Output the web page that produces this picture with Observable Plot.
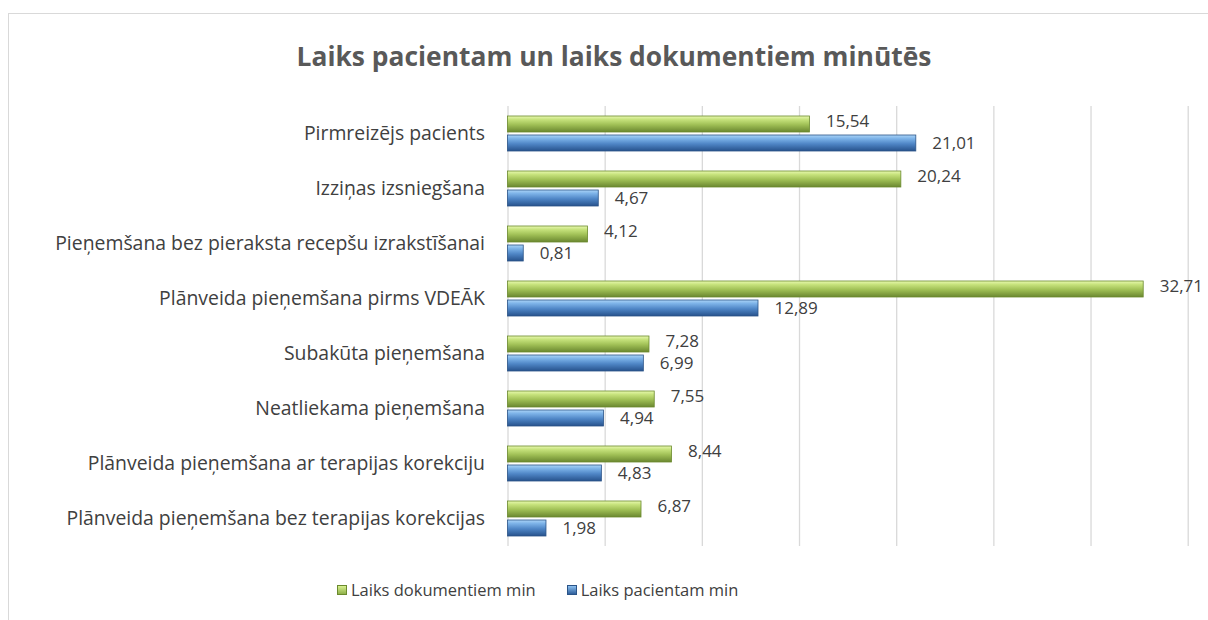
<!DOCTYPE html>
<html>
<head>
<meta charset="utf-8">
<script src="https://cdn.jsdelivr.net/npm/d3@7"></script>
<script src="https://cdn.jsdelivr.net/npm/@observablehq/plot@0.6"></script>
<style>
  html, body { margin: 0; padding: 0; background: #fff; }
  body { width: 1208px; height: 620px; overflow: hidden; position: relative; font-family: "Open Sans", sans-serif; }
  #frame { position: absolute; left: 8px; top: 13px; width: 1210px; height: 620px; border-left: 1.5px solid #d9d9d9; border-top: 1.5px solid #d9d9d9; box-sizing: border-box; }
  #title { position: absolute; left: 0; top: 38px; width: 1228px; text-align: center; font-weight: bold; font-size: 26.4px; line-height: 36px; color: #595959; }
  #chart { position: absolute; left: 0; top: 90px; }
  #legend { position: absolute; left: 337px; top: 578px; display: flex; font-size: 16.5px; line-height: 24px; color: #404040; }
  .item { display: flex; align-items: center; margin-right: 31px; }
  .sw { width: 10px; height: 10px; margin-right: 4px; box-sizing: border-box; }
</style>
</head>
<body>
<div id="frame"></div>
<div id="title">Laiks pacientam un laiks dokumentiem minūtēs</div>
<div id="chart"></div>
<div id="legend"></div>
<script>
const categories = [
  "Pirmreizējs pacients",
  "Izziņas izsniegšana",
  "Pieņemšana bez pieraksta recepšu izrakstīšanai",
  "Plānveida pieņemšana pirms VDEĀK",
  "Subakūta pieņemšana",
  "Neatliekama pieņemšana",
  "Plānveida pieņemšana ar terapijas korekciju",
  "Plānveida pieņemšana bez terapijas korekcijas"
];
const seriesNames = ["Laiks dokumentiem min", "Laiks pacientam min"];
const dokumentiem = [15.54, 20.24, 4.12, 32.71, 7.28, 7.55, 8.44, 6.87];
const pacientam = [21.01, 4.67, 0.81, 12.89, 6.99, 4.94, 4.83, 1.98];
const xTicks = [0, 5, 10, 15, 20, 25, 30, 35];
const seriesFill = { "Laiks dokumentiem min": "url(#gGreen)", "Laiks pacientam min": "url(#gBlue)" };
const seriesStroke = { "Laiks dokumentiem min": "#6b8a2e", "Laiks pacientam min": "#2b5488" };

const rows = [];
categories.forEach((c, i) => {
  rows.push({ cat: c, series: seriesNames[0], value: dokumentiem[i] });
  rows.push({ cat: c, series: seriesNames[1], value: pacientam[i] });
});
const fmt = v => v.toFixed(2).replace(".", ",");

const labelMark = (seriesName, dy) => Plot.text(rows, {
  filter: d => d.series === seriesName,
  x: "value", y: "series", text: d => fmt(d.value),
  textAnchor: "start", dx: 16, dy, fill: "#404040", fontSize: 17
});

const plot = Plot.plot({
  width: 1208,
  height: 470,
  marginTop: 14,
  marginBottom: 12,
  marginLeft: 507.5,
  marginRight: 20.3,
  style: { fontFamily: "'Open Sans', sans-serif", fontSize: "19.4px", color: "#404040", background: "transparent" },
  facet: { data: rows, y: "cat" },
  fy: { domain: categories, padding: 0, label: null, axis: "left", tickSize: 0, tickPadding: 23 },
  y: { domain: seriesNames, axis: null, paddingInner: 0.15, paddingOuter: 0.4625 },
  x: { domain: [0, 35], axis: null },
  marks: [
    Plot.ruleX(xTicks, { stroke: "#d9d9d9", strokeWidth: 1.3 }),
    Plot.barX(rows, {
      x: "value", y: "series",
      fill: d => seriesFill[d.series],
      stroke: d => seriesStroke[d.series],
      strokeWidth: 0.8
    }),
    labelMark(seriesNames[0], -3),
    labelMark(seriesNames[1], 0.5)
  ]
});

// axis labels: force size regardless of Plot's axis defaults
d3.select(plot).selectAll("text").each(function () {
  const inTextMark = this.closest("g[aria-label='text']");
  if (!inTextMark) {
    this.style.fontSize = "19.4px";
    this.style.fill = "#404040";
  }
});

// gradients for the bevel look
const ns = "http://www.w3.org/2000/svg";
const defs = document.createElementNS(ns, "defs");
defs.innerHTML = `
<linearGradient id="gGreen" x1="0" y1="0" x2="0" y2="1">
  <stop offset="0" stop-color="#e8f9b0"/>
  <stop offset="0.22" stop-color="#c6e27c"/>
  <stop offset="0.55" stop-color="#9fbf55"/>
  <stop offset="1" stop-color="#6a8730"/>
</linearGradient>
<linearGradient id="gBlue" x1="0" y1="0" x2="0" y2="1">
  <stop offset="0" stop-color="#acd5f8"/>
  <stop offset="0.22" stop-color="#7db3e8"/>
  <stop offset="0.55" stop-color="#4f86c6"/>
  <stop offset="1" stop-color="#27528c"/>
</linearGradient>`;
plot.insertBefore(defs, plot.firstChild);
document.getElementById("chart").appendChild(plot);

// legend
const legend = document.getElementById("legend");
const legendFill = { "Laiks dokumentiem min": "linear-gradient(#d8f08f, #8fb04a)", "Laiks pacientam min": "linear-gradient(#8cc0f0, #2f5f9c)" };
seriesNames.forEach(s => {
  const item = document.createElement("div");
  item.className = "item";
  const sw = document.createElement("span");
  sw.className = "sw";
  sw.style.background = legendFill[s];
  sw.style.border = "1px solid " + seriesStroke[s];
  item.appendChild(sw);
  const t = document.createElement("span");
  t.textContent = s;
  item.appendChild(t);
  legend.appendChild(item);
});
</script>
</body>
</html>
